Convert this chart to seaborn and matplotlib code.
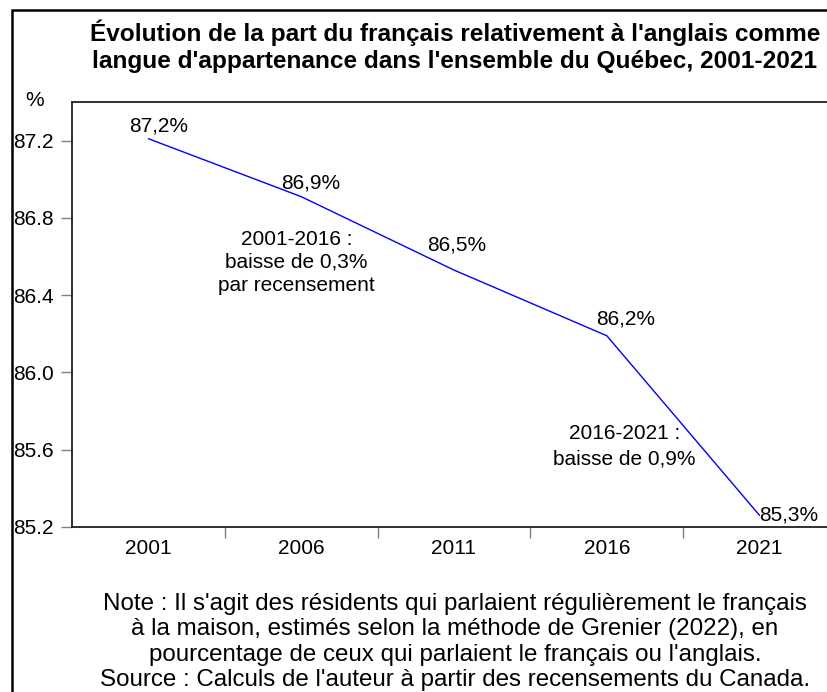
import matplotlib
matplotlib.use("Agg")
import matplotlib.pyplot as plt
import seaborn as sns
from matplotlib.patches import Rectangle

sns.set_style("ticks")
plt.rcParams['font.family'] = ['Liberation Sans', 'DejaVu Sans']
plt.rcParams['text.color'] = 'black'
plt.rcParams['xtick.labelcolor'] = 'black'
plt.rcParams['ytick.labelcolor'] = 'black'

years = ['2001', '2006', '2011', '2016', '2021']
part_fr = [87.21, 86.91, 86.53, 86.19, 85.26]
labels = ['87,2%', '86,9%', '86,5%', '86,2%', '85,3%']
y_ticks = [85.2, 85.6, 86.0, 86.4, 86.8, 87.2]

W, H = 827, 692
fig = plt.figure(figsize=(W / 100, H / 100), dpi=100)
ax = fig.add_axes([72 / W, 1 - 527 / H, 764 / W, 425 / H])

pos = list(range(len(years)))
sns.lineplot(x=pos, y=part_fr, ax=ax, color='#0000ff', linewidth=1.0)

ax.set_xlim(-0.5, len(years) - 0.5)
ax.set_ylim(85.2, 87.4)
ax.set_yticks(y_ticks)
ax.set_yticklabels([f'{v:.1f}' for v in y_ticks], fontsize=15)
ax.set_xticks([p + 0.5 for p in pos[:-1]])
ax.set_xticklabels([])
ax.set_xticks(pos, minor=True)
ax.set_xticklabels(years, minor=True, fontsize=15)
ax.tick_params(axis='x', which='major', length=8, color='#808080', width=1, direction='out')
ax.tick_params(axis='x', which='minor', length=0, pad=9)
ax.tick_params(axis='y', length=8, color='#808080', width=1, direction='out', pad=5)
ax.set_xlabel('')
ax.set_ylabel('')
for s in ax.spines.values():
    s.set_linewidth(1.3)
    s.set_color('#202020')

# étiquettes des points
offsets = [(0.07, 0.066), (0.06, 0.07), (0.02, 0.128), (0.12, 0.089), (0.0, 0.0)]
for p, v, lab, (dx, dy) in zip(pos, part_fr, labels, offsets):
    ha = 'left' if p == len(years) - 1 else 'center'
    ax.text(p + dx, v + dy, lab, ha=ha, va='center', fontsize=15)

ax.text(0.97, 86.57, '2001-2016 :\nbaisse de 0,3%\npar recensement',
        ha='center', va='center', fontsize=15, linespacing=1.27)
ax.text(3.115, 85.617, '2016-2021 :\nbaisse de 0,9%',
        ha='center', va='center', fontsize=15, linespacing=1.4)

fig.text(35 / W, 1 - 100 / H, '%', ha='center', va='center', fontsize=15)

fig.text(455 / W, 1 - 46 / H,
         "Évolution de la part du français relativement à l'anglais comme\n"
         "langue d'appartenance dans l'ensemble du Québec, 2001-2021",
         ha='center', va='center', fontsize=17.6, fontweight='bold', linespacing=1.2)

fig.text(455 / W, 1 - 642 / H,
         "Note : Il s'agit des résidents qui parlaient régulièrement le français\n"
         "à la maison, estimés selon la méthode de Grenier (2022), en\n"
         "pourcentage de ceux qui parlaient le français ou l'anglais.\n"
         "Source : Calculs de l'auteur à partir des recensements du Canada.",
         ha='center', va='center', fontsize=17.4, linespacing=1.2)

fig.patches.append(Rectangle((12 / W, -0.05), 1.1, 1 - 10 / H + 0.05,
                             transform=fig.transFigure, fill=False,
                             edgecolor='black', linewidth=1.8))

fig.savefig('out.png', dpi=100)
